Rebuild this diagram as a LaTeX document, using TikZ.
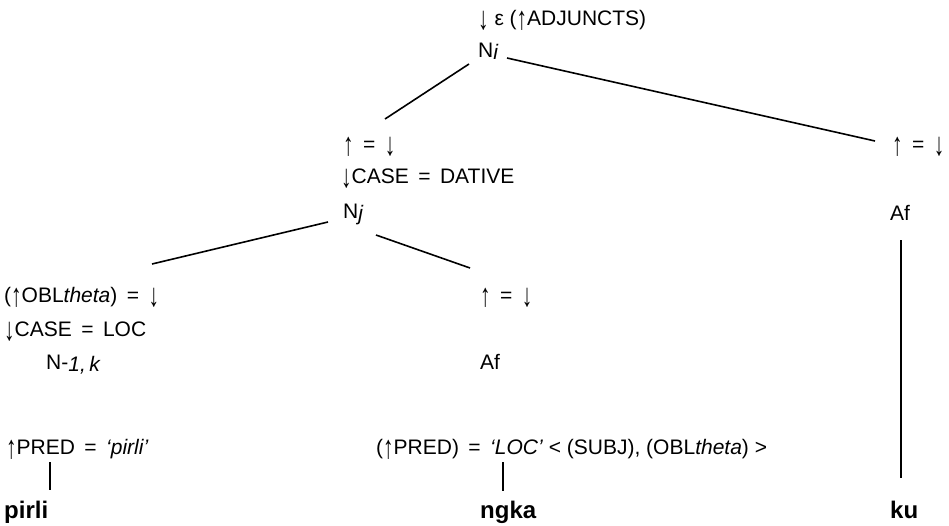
\documentclass[tikz,border=0pt]{standalone}
\usepackage{fontspec}
\usepackage{graphicx}
\setmainfont{Liberation Sans}
\usetikzlibrary{calc}
\tikzset{
  lab/.style={anchor=base west, inner sep=0pt, font=\fontsize{21}{24}\selectfont},
  word/.style={anchor=base west, inner sep=0pt, font=\fontsize{24}{28}\selectfont\bfseries},
  branch/.style={line width=1.6pt},
  stem/.style={line width=1.3pt}
}
\newcommand{\sub}[1]{\raisebox{-2pt}{\itshape #1}}
\newcommand{\upa}{\raisebox{-0.22em}{\scalebox{1}[1.55]{↑}}}
\newcommand{\dna}{\raisebox{-0.22em}{\scalebox{1}[1.55]{↓}}}
\newcommand{\eqs}{\hspace{0.45em}=\hspace{0.45em}}
\begin{document}
\begin{tikzpicture}[x=1pt,y=-1pt]
\useasboundingbox (0,0) rectangle (949,525);
% top
\node[lab] (adj) at (478,25) {\dna{} ε (\upa ADJUNCTS)};
\node[lab] (Ni) at (478,57) {N\sub{i}};
% Nj group
\node[lab] (eqA) at (343,151) {\upa\eqs\dna};
\node[lab] (caseD) at (341,183) {\dna CASE\eqs DATIVE};
\node[lab] (Nj) at (343,218) {N\sub{j}};
% right group
\node[lab] (eqB) at (892,151) {\upa\eqs\dna};
\node[lab] (AfB) at (890,220) {Af};
% left group
\node[lab] (obl) at (4,302) {(\upa OBL\textit{theta})\eqs\dna};
\node[lab] (caseL) at (4,336) {\dna CASE\eqs LOC};
\node[lab] (Nk) at (46,369) {N-\sub{1,\,k}};
% middle group
\node[lab] (eqC) at (480,302) {\upa\eqs\dna};
\node[lab] (AfC) at (480,369) {Af};
% PRED lines
\node[lab] (predP) at (6,454) {\upa PRED\eqs\textit{‘pirli’}};
\node[lab] (predL) at (376,454) {(\upa PRED)\eqs\textit{‘LOC’} < (SUBJ), (OBL\textit{theta}) >};
% words
\node[word] (pirli) at (4,518) {pirli};
\node[word] (ngka) at (480,518) {ngka};
\node[word] (ku) at (890,518) {ku};
% branches
\draw[branch] ($(Ni.base west)+(-9,7)$) -- ($(eqA.base west)+(42,-32)$);
\draw[branch] ($(Ni.base west)+(29,1)$) -- ($(eqB.base west)+(-17,-10)$);
\draw[branch] ($(Nj.base west)+(-15,4)$) -- ($(obl.base west)+(148,-38)$);
\draw[branch] ($(Nj.base west)+(33,17)$) -- ($(eqC.base west)+(-10,-34)$);
% stems
\draw[stem] ($(AfB.base west)+(11,20)$) -- ($(ku.base west)+(11,-40)$);
\draw[stem] ($(predP.base west)+(44,8)$) -- ($(pirli.base west)+(46,-28)$);
\draw[stem] ($(predL.base west)+(127,8)$) -- ($(ngka.base west)+(23,-27)$);
\end{tikzpicture}
\end{document}
